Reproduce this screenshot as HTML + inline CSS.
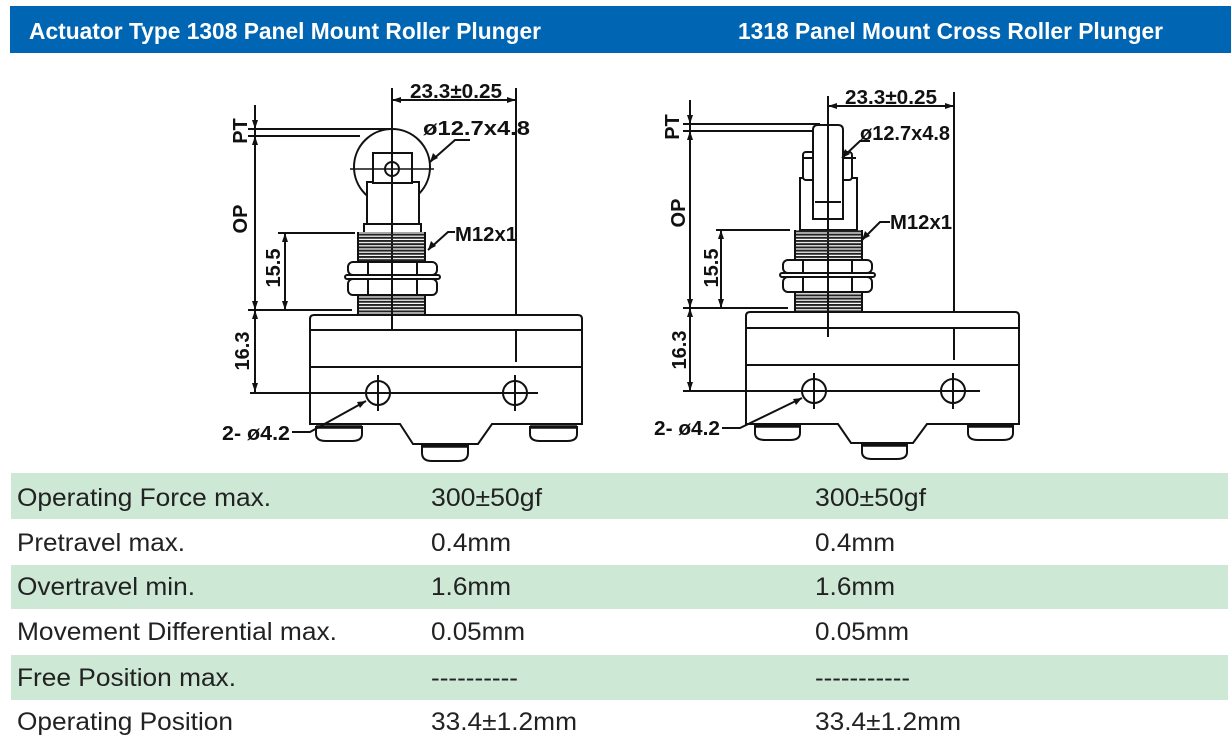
<!DOCTYPE html>
<html><head><meta charset="utf-8"><style>
html,body{margin:0;padding:0;background:#fff;}
svg{display:block;}
</style></head><body>
<svg width="1231" height="739" viewBox="0 0 1231 739" xmlns="http://www.w3.org/2000/svg" font-family="Liberation Sans, Arial, sans-serif">
<defs>
<pattern id="thr" x="0" y="0" width="10" height="3.2" patternUnits="userSpaceOnUse">
<rect x="0" y="0" width="10" height="2" fill="#222"/>
</pattern>
</defs>
<rect x="10" y="6" width="1221" height="47" fill="#0066b3"/>
<text x="29" y="39" font-size="23" font-weight="bold" fill="#fff" textLength="512" lengthAdjust="spacingAndGlyphs">Actuator Type 1308 Panel Mount Roller Plunger</text>
<text x="738" y="39" font-size="23" font-weight="bold" fill="#fff" textLength="425" lengthAdjust="spacingAndGlyphs">1318 Panel Mount Cross Roller Plunger</text>

<g stroke="#111" fill="none" stroke-width="2">
<!-- LEFT DRAWING -->
<line x1="392" y1="88" x2="392" y2="330"/>
<line x1="516" y1="88" x2="516" y2="362"/>
<line x1="392" y1="100" x2="516" y2="100"/>
<line x1="255" y1="105" x2="255" y2="392"/>
<line x1="248" y1="129" x2="392" y2="129"/>
<line x1="248" y1="136" x2="360" y2="136"/>
<line x1="278" y1="233" x2="355" y2="233"/>
<line x1="248" y1="310" x2="352" y2="310"/>
<line x1="285" y1="233" x2="285" y2="310"/>
<circle cx="392" cy="167" r="38"/>
<rect x="367" y="182" width="52" height="42" fill="#fff"/>
<path d="M364,232 V224 H421 V232" fill="#fff"/>
<rect x="373" y="153" width="39" height="30" fill="#fff"/>
<circle cx="392" cy="169" r="7"/>
<line x1="350" y1="169" x2="434" y2="169" stroke-width="1.4"/>
<line x1="392" y1="88" x2="392" y2="330"/>
<rect x="358" y="232" width="67" height="31" fill="url(#thr)" stroke="none"/>
<rect x="358" y="295" width="67" height="20" fill="url(#thr)" stroke="none"/>
<line x1="358" y1="232" x2="358" y2="315"/><line x1="425" y1="232" x2="425" y2="315"/>
<rect x="348" y="262" width="89" height="13" rx="5" fill="#fff"/>
<line x1="368" y1="262" x2="368" y2="275"/><line x1="417" y1="262" x2="417" y2="275"/>
<rect x="345" y="275" width="95" height="4" rx="2" fill="#fff"/>
<rect x="348" y="279" width="89" height="16" rx="5" fill="#fff"/>
<line x1="368" y1="279" x2="368" y2="295"/><line x1="417" y1="279" x2="417" y2="295"/>
<line x1="392" y1="255" x2="392" y2="330"/>
<path d="M310,424 V319 Q310,315 314,315 H578 Q582,315 582,319 V424 H492 L478,444 H413 L400,424 Z" fill="#fff"/>
<line x1="392" y1="315" x2="392" y2="330"/>
<line x1="310" y1="330" x2="582" y2="330"/>
<line x1="310" y1="367" x2="582" y2="367"/>
<line x1="516" y1="330" x2="516" y2="362"/>
<line x1="250" y1="393" x2="538" y2="393"/>
<circle cx="378" cy="393" r="12" fill="#fff"/><circle cx="515" cy="393" r="12" fill="#fff"/>
<line x1="378" y1="375" x2="378" y2="411"/><line x1="515" y1="375" x2="515" y2="411"/>
<line x1="360" y1="393" x2="396" y2="393"/><line x1="497" y1="393" x2="538" y2="393"/>
<path d="M316,427 H362 V434 Q362,441 352,441 H326 Q316,441 316,434 Z"/><line x1="316" y1="427" x2="362" y2="427" stroke-width="3.5"/>
<path d="M422,446 H468 V453 Q468,461 458,461 H432 Q422,461 422,453 Z"/><line x1="422" y1="446" x2="468" y2="446" stroke-width="3.5"/>
<path d="M530,427 H577 V434 Q577,441 567,441 H540 Q530,441 530,434 Z"/><line x1="530" y1="427" x2="577" y2="427" stroke-width="3.5"/>
<polyline points="292,432 310,432 366,401"/>
<polyline points="470,140 455,140 430,162"/>
<polyline points="455,232 448,232 428,250"/>

<!-- RIGHT DRAWING -->
<line x1="828" y1="96" x2="828" y2="337"/>
<line x1="954" y1="92" x2="954" y2="360"/>
<line x1="828" y1="106" x2="954" y2="106"/>
<line x1="690" y1="100" x2="690" y2="391"/>
<line x1="683" y1="124" x2="820" y2="124"/>
<line x1="683" y1="131" x2="812" y2="131"/>
<line x1="716" y1="230" x2="790" y2="230"/>
<line x1="683" y1="308" x2="788" y2="308"/>
<line x1="721" y1="230" x2="721" y2="308"/>
<rect x="800" y="178" width="57" height="52" fill="#fff"/>
<rect x="803" y="152" width="12" height="28" rx="3" fill="#fff"/>
<rect x="840" y="152" width="12" height="28" rx="3" fill="#fff"/>
<line x1="802" y1="158" x2="856" y2="158"/>
<path d="M813,219 V130 Q813,125 818,125 H838 Q843,125 843,130 V219 Z" fill="#fff"/>
<line x1="815" y1="202" x2="841" y2="202"/>
<line x1="828" y1="96" x2="828" y2="337"/>
<rect x="795" y="230" width="67" height="31" fill="url(#thr)" stroke="none"/>
<rect x="795" y="292" width="67" height="20" fill="url(#thr)" stroke="none"/>
<line x1="795" y1="230" x2="795" y2="312"/><line x1="862" y1="230" x2="862" y2="312"/>
<rect x="783" y="260" width="89" height="13" rx="5" fill="#fff"/>
<line x1="803" y1="260" x2="803" y2="273"/><line x1="852" y1="260" x2="852" y2="273"/>
<rect x="780" y="273" width="95" height="4" rx="2" fill="#fff"/>
<rect x="783" y="277" width="89" height="15" rx="5" fill="#fff"/>
<line x1="803" y1="277" x2="803" y2="292"/><line x1="852" y1="277" x2="852" y2="292"/>
<line x1="828" y1="255" x2="828" y2="337"/>
<path d="M746,424 V316 Q746,312 750,312 H1015 Q1019,312 1019,316 V424 H927 L913,443 H851 L838,424 Z" fill="#fff"/>
<line x1="828" y1="312" x2="828" y2="337"/>
<line x1="746" y1="328" x2="1019" y2="328"/>
<line x1="746" y1="365" x2="1019" y2="365"/>
<line x1="954" y1="328" x2="954" y2="360"/>
<line x1="683" y1="391" x2="980" y2="391"/>
<circle cx="814" cy="391" r="12" fill="#fff"/><circle cx="953" cy="391" r="12" fill="#fff"/>
<line x1="814" y1="373" x2="814" y2="409"/><line x1="953" y1="373" x2="953" y2="409"/>
<line x1="796" y1="391" x2="832" y2="391"/><line x1="935" y1="391" x2="980" y2="391"/>
<path d="M755,426 H800 V433 Q800,440 790,440 H765 Q755,440 755,433 Z"/><line x1="755" y1="426" x2="800" y2="426" stroke-width="3.5"/>
<path d="M862,445 H907 V452 Q907,459 897,459 H872 Q862,459 862,452 Z"/><line x1="862" y1="445" x2="907" y2="445" stroke-width="3.5"/>
<path d="M968,426 H1013 V433 Q1013,440 1003,440 H978 Q968,440 968,433 Z"/><line x1="968" y1="426" x2="1013" y2="426" stroke-width="3.5"/>
<polyline points="722,428 740,428 802,398"/>
<polyline points="870,141 860,141 842,158"/>
<polyline points="890,222 880,222 862,240"/>
</g>

<g fill="#111">
<polygon points="392,100 401,97 401,103"/><polygon points="516,100 507,97 507,103"/>
<polygon points="255,129 252,120 258,120"/><polygon points="255,136 252,145 258,145"/>
<polygon points="255,310 252,301 258,301"/><polygon points="255,310 252,319 258,319"/>
<polygon points="255,392 252,383 258,383"/>
<polygon points="285,233 282,242 288,242"/><polygon points="285,310 282,301 288,301"/>
<polygon points="366,401 357,402 360,408"/>
<polygon points="430,162 433,153 438,158"/>
<polygon points="428,250 431,241 436,246"/>
<polygon points="828,106 837,103 837,109"/><polygon points="954,106 945,103 945,109"/>
<polygon points="690,124 687,115 693,115"/><polygon points="690,131 687,140 693,140"/>
<polygon points="690,308 687,299 693,299"/><polygon points="690,308 687,317 693,317"/>
<polygon points="690,391 687,382 693,382"/>
<polygon points="721,230 718,239 724,239"/><polygon points="721,308 718,299 724,299"/>
<polygon points="802,398 793,399 796,405"/>
<polygon points="842,158 845,149 850,154"/>
<polygon points="862,240 865,231 870,236"/>
</g>

<g font-size="20" font-weight="bold" fill="#111">
<text x="410" y="98" textLength="92" lengthAdjust="spacingAndGlyphs">23.3±0.25</text>
<text x="423" y="135" textLength="107" lengthAdjust="spacingAndGlyphs">ø12.7x4.8</text>
<text x="455" y="241" textLength="62" lengthAdjust="spacingAndGlyphs">M12x1</text>
<text x="222" y="440" textLength="68" lengthAdjust="spacingAndGlyphs">2- ø4.2</text>
<text transform="translate(247,131) rotate(-90)" text-anchor="middle">PT</text>
<text transform="translate(247,219) rotate(-90)" text-anchor="middle">OP</text>
<text transform="translate(280,268) rotate(-90)" text-anchor="middle">15.5</text>
<text transform="translate(249,351) rotate(-90)" text-anchor="middle">16.3</text>

<text x="845" y="104" textLength="92" lengthAdjust="spacingAndGlyphs">23.3±0.25</text>
<text x="860" y="140" textLength="90" lengthAdjust="spacingAndGlyphs">ø12.7x4.8</text>
<text x="890" y="229" textLength="62" lengthAdjust="spacingAndGlyphs">M12x1</text>
<text x="654" y="435" textLength="66" lengthAdjust="spacingAndGlyphs">2- ø4.2</text>
<text transform="translate(679,127) rotate(-90)" text-anchor="middle">PT</text>
<text transform="translate(685,213) rotate(-90)" text-anchor="middle">OP</text>
<text transform="translate(718,268) rotate(-90)" text-anchor="middle">15.5</text>
<text transform="translate(686,350) rotate(-90)" text-anchor="middle">16.3</text>
</g>

<rect x="11" y="473" width="1217" height="46" fill="#cde8d4"/>
<rect x="11" y="565" width="1217" height="44" fill="#cde8d4"/>
<rect x="11" y="655" width="1217" height="45" fill="#cde8d4"/>
<g font-size="25" fill="#222">
<text x="17" y="506" textLength="254" lengthAdjust="spacingAndGlyphs">Operating Force max.</text>
<text x="431" y="506" textLength="111" lengthAdjust="spacingAndGlyphs">300±50gf</text>
<text x="815" y="506" textLength="111" lengthAdjust="spacingAndGlyphs">300±50gf</text>
<text x="17" y="551" textLength="168" lengthAdjust="spacingAndGlyphs">Pretravel max.</text>
<text x="431" y="551" textLength="80" lengthAdjust="spacingAndGlyphs">0.4mm</text>
<text x="815" y="551" textLength="80" lengthAdjust="spacingAndGlyphs">0.4mm</text>
<text x="17" y="595" textLength="178" lengthAdjust="spacingAndGlyphs">Overtravel min.</text>
<text x="431" y="595" textLength="80" lengthAdjust="spacingAndGlyphs">1.6mm</text>
<text x="815" y="595" textLength="80" lengthAdjust="spacingAndGlyphs">1.6mm</text>
<text x="17" y="640" textLength="320" lengthAdjust="spacingAndGlyphs">Movement Differential max.</text>
<text x="431" y="640" textLength="94" lengthAdjust="spacingAndGlyphs">0.05mm</text>
<text x="815" y="640" textLength="94" lengthAdjust="spacingAndGlyphs">0.05mm</text>
<text x="17" y="686" textLength="219" lengthAdjust="spacingAndGlyphs">Free Position max.</text>
<text x="431" y="686" textLength="87" lengthAdjust="spacingAndGlyphs">----------</text>
<text x="815" y="686" textLength="95" lengthAdjust="spacingAndGlyphs">-----------</text>
<text x="17" y="730" textLength="216" lengthAdjust="spacingAndGlyphs">Operating Position</text>
<text x="431" y="730" textLength="146" lengthAdjust="spacingAndGlyphs">33.4±1.2mm</text>
<text x="815" y="730" textLength="146" lengthAdjust="spacingAndGlyphs">33.4±1.2mm</text>
</g>
</svg>
</body></html>
